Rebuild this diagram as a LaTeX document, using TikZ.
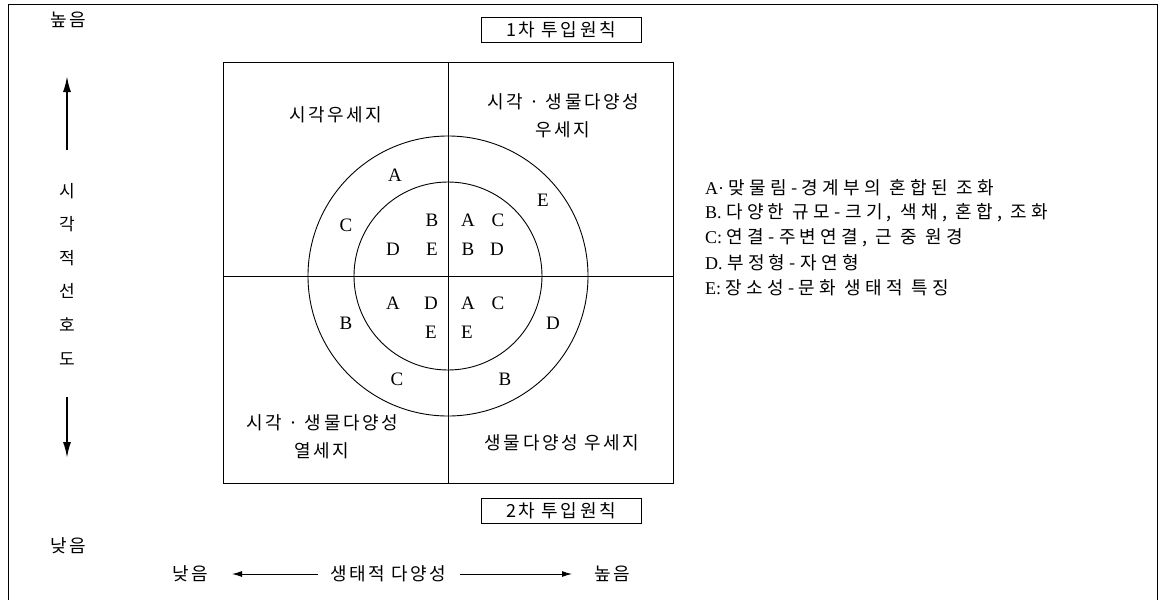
\documentclass[tikz,border=0pt]{standalone}
\usepackage{fontspec}
\setmainfont{Liberation Serif}
\newfontfamily\kr[LetterSpace=14]{Noto Sans CJK KR}
\newfontfamily\krw[LetterSpace=24]{Noto Sans CJK KR}
\usetikzlibrary{arrows.meta}
\begin{document}
\begin{tikzpicture}[x=1pt,y=-1pt,
  lab/.style={font=\kr\fontsize{18}{28}\selectfont, inner sep=0pt, align=center},
  ltr/.style={font=\fontsize{19}{20}\selectfont, inner sep=0pt},
  leg/.style={font=\fontsize{18}{19}\selectfont, anchor=west, inner sep=0pt},
  frameline/.style={line width=0.8pt},
  thinline/.style={line width=0.8pt},
  vax/.style={line width=1.8pt, -{Latex[length=16pt,width=8pt]}},
  hax/.style={line width=1pt, -{Latex[length=10pt,width=6pt]}},
  pbox/.style={draw, line width=0.8pt, minimum width=160pt, minimum height=25pt, inner sep=0pt, font=\kr\fontsize{18}{18}\selectfont},
  ring/.style={circle, draw, line width=0.9pt, inner sep=0pt},
  ]
\useasboundingbox (0,0) rectangle (1163,600);
\draw[frameline] (8,600) -- (8,4) -- (1157,4) -- (1157,600);

% square and axes
\node[draw, line width=0.9pt, minimum width=450pt, minimum height=421pt, inner sep=0pt] (sq) at (448,272.5) {};
\coordinate (c) at (448,276);
\draw[thinline] (c -| sq.west) -- (c -| sq.east);
\draw[thinline] (sq.north) -- (sq.south);

% rings
\node[ring, minimum size=280pt] (outer) at (c) {};
\node[ring, minimum size=188pt] (inner) at (c) {};

% principle boxes
\node[pbox] (p1) at (561,30) {1차 투입원칙};
\node[pbox] (p2) at (561,511) {2차 투입원칙};

% quadrant labels
\node[lab] (q1) at (336,115) {시각우세지};
\node[lab] (q2) at (563,116) {시각 · 생물다양성\\우세지};
\node[lab] (q3) at (322,437) {시각 · 생물다양성\\열세지};
\node[lab] (q4) at (562,443) {생물다양성 우세지};

% ring letters (outer)
\node[ltr] (oA) at (395,175) {A};
\node[ltr] (oE) at (543,200) {E};
\node[ltr] (oC) at (346,225) {C};
\node[ltr] (oB) at (346,323) {B};
\node[ltr] (oD) at (553,323) {D};
\node[ltr] (oC2) at (397,379) {C};
\node[ltr] (oB2) at (505,379) {B};
% inner letters
\node[ltr] (i1) at (432,220) {B};
\node[ltr] (i2) at (468,220) {A};
\node[ltr] (i3) at (498,220) {C};
\node[ltr] (i4) at (393,249) {D};
\node[ltr] (i5) at (432,249) {E};
\node[ltr] (i6) at (468,249) {B};
\node[ltr] (i7) at (497,249) {D};
\node[ltr] (i8) at (393,303) {A};
\node[ltr] (i9) at (431,303) {D};
\node[ltr] (i10) at (468,303) {A};
\node[ltr] (i11) at (498,303) {C};
\node[ltr] (i12) at (431,332) {E};
\node[ltr] (i13) at (467,332) {E};

% vertical axis
\node[lab] (vhi) at (68,20) {높음};
\node[lab, font=\kr\fontsize{17}{33.6}\selectfont] (vt) at (67,274) {시\\각\\적\\선\\호\\도};
\node[lab] (vlo) at (68,546) {낮음};
\coordinate (vtop) at (67,76);
\coordinate (vtopb) at (67,150);
\coordinate (vbot) at (67,458);
\coordinate (vbotb) at (67,397);
\draw[vax] (vtopb) -- (vtop);
\draw[vax] (vbotb) -- (vbot);

% horizontal axis
\node[lab] (hlo) at (190,574) {낮음};
\node[lab] (ht) at (388,574) {생태적 다양성};
\node[lab] (hhi) at (612,574) {높음};
\coordinate (hl) at (232,574);
\coordinate (hr) at (572,574);
\draw[hax] ([xshift=-12pt]ht.west) -- (hl);
\draw[hax] ([xshift=14pt]ht.east) -- (hr);

% legend
\node[leg] (la) at (705,188) {A· {\krw 맞물림-경계부의 혼합된 조화}};
\node[leg] (lb) at (705,213) {B. {\krw 다양한 규모-크기, 색채, 혼합, 조화}};
\node[leg] (lc) at (705,238) {C: {\krw 연결-주변연결, 근 중 원경}};
\node[leg] (ld) at (705,263) {D. {\krw 부정형-자연형}};
\node[leg] (le) at (705,288) {E: {\krw 장소성-문화 생태적 특징}};
\end{tikzpicture}
\end{document}
